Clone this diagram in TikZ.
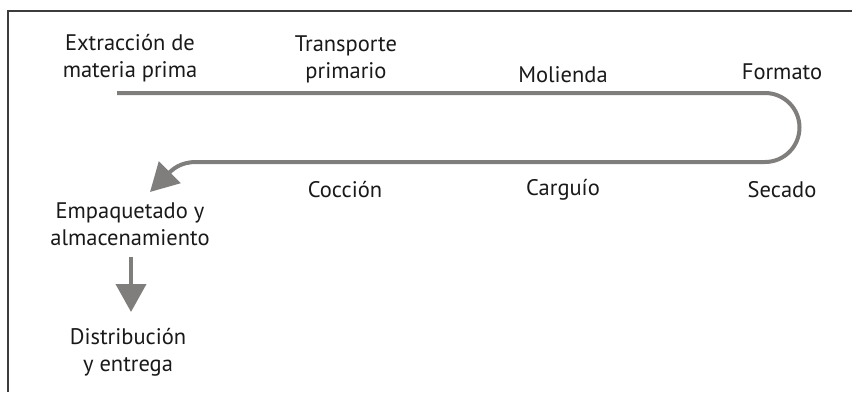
\documentclass[tikz,border=0pt]{standalone}
\usepackage{fontspec}
\setmainfont{PT Sans}
\usetikzlibrary{arrows.meta}
\definecolor{linegray}{RGB}{128,125,125}
\definecolor{framegray}{RGB}{60,60,60}
\definecolor{textcol}{RGB}{25,25,25}
\begin{document}
\begin{tikzpicture}[x=1pt,y=-1pt,
  lbl/.style={text=textcol,font=\fontsize{22.5}{27}\selectfont,align=center,inner sep=0pt},
  flow/.style={draw=linegray,line width=4pt},
  bigtip/.style={-{Triangle[length=28pt,width=30pt]}}]
\useasboundingbox (0,0) rectangle (852,392);
\draw[framegray,line width=1.5pt] (8,392) -- (8,11) -- (852,11);
\node[lbl] (extr) at (130,58) {Extracción de\\materia prima};
\node[lbl] (trans) at (346,59) {Transporte\\primario};
\node[lbl] (mol) at (563,75) {Molienda};
\node[lbl] (form) at (782,72) {Formato};
\node[lbl] (sec) at (782,190) {Secado};
\node[lbl] (carg) at (563,190) {Carguío};
\node[lbl] (cocc) at (345,190) {Cocción};
\node[lbl] (emp) at (130,224) {Empaquetado y\\almacenamiento};
\node[lbl] (dist) at (128,352) {Distribución\\y entrega};
\coordinate (s) at (117,93);
\coordinate (tr) at (765,93);
\coordinate (bl) at (196,162);
\coordinate (tip) at (150,192);
\draw[flow,bigtip] (s) -- (tr) arc[start angle=-90,end angle=90,radius=34.5] -- (bl)
  .. controls (180,162) and (172,170) .. (tip);
\coordinate (d1) at (131,257);
\coordinate (d2) at (131,312);
\draw[flow,bigtip] (d1) -- (d2);
\end{tikzpicture}
\end{document}
